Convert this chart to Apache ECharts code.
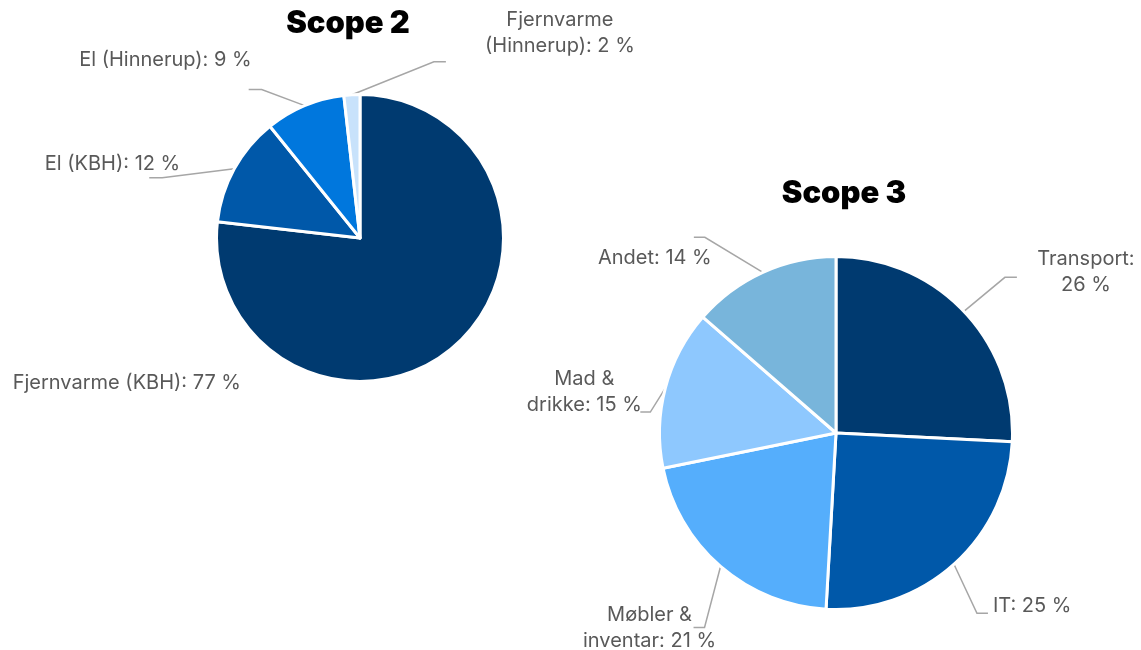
<!DOCTYPE html>
<html><head><meta charset="utf-8">
<script src="https://cdn.jsdelivr.net/npm/echarts@6/dist/echarts.min.js"></script>
<style>html,body{margin:0;padding:0;background:#fff}#c{width:1141px;height:650px}</style>
</head><body><div id="c"></div>
<script>
// ---- data ----
const titles = ['Scope 2', 'Scope 3'];
const scope2Categories = ['Fjernvarme (KBH)', 'El (KBH)', 'El (Hinnerup)', 'Fjernvarme (Hinnerup)'];
const scope2Values = [76.8, 12.4, 9.0, 1.8];
const scope3Categories = ['Transport', 'IT', 'Møbler & inventar', 'Mad & drikke', 'Andet'];
const scope3Values = [25.8, 25.1, 20.9, 14.6, 13.6];

// ---- styling / layout ----
const scope2Colors = ['#003a70', '#0058a9', '#0077dd', '#c8e2fb'];
const scope3Colors = ['#003a70', '#0058a9', '#55aefc', '#8ec8fe', '#78b5db'];
const pie2 = { center: [360, 238], radius: 143.5 };
const pie3 = { center: [836, 433], radius: 176.5 };
const FONT = 'Inter, "Noto Sans", sans-serif';
// label placement: elbow offset from edge point, horizontal tail, text offset from line end
const place2 = [
  { free: true, text: [-119, 145], align: 'right' },
  { elbow: [-72, 9], tail: -13, text: [31, -14], align: 'right' },
  { elbow: [-43, -16], tail: -13, text: [3, -30], align: 'right' },
  { elbow: [82, -33], tail: 12, text: [114, -29], align: 'center', wrapAt: 1 }
];
const place3 = [
  { elbow: [41, -34], tail: 12, text: [69, -5], align: 'center', wrapAt: 1 },
  { elbow: [23, 49], tail: 11, text: [5, -7], align: 'left' },
  { elbow: [-16, 61], tail: -11, text: [-44, 0], align: 'center', wrapAt: 2 },
  { elbow: [-15, 24], tail: -10, text: [-56, -20], align: 'center', wrapAt: 2 },
  { elbow: [-58, -35], tail: -11, text: [-39, 21], align: 'center' }
];

function wrapText(s, n) {
  if (!n) return s;
  let idx = -1;
  for (let k = 0; k < n; k++) idx = s.indexOf(' ', idx + 1);
  return s.slice(0, idx) + '\n' + s.slice(idx + 1);
}

function makeLayout(cfg, pie) {
  return function (p) {
    const c = cfg[p.dataIndex];
    if (c.free || !p.labelLinePoints) {
      return { x: pie.center[0] + c.text[0], y: pie.center[1] + c.text[1], align: c.align, verticalAlign: 'middle' };
    }
    const p0 = p.labelLinePoints[0];
    const elbow = [p0[0] + c.elbow[0], p0[1] + c.elbow[1]];
    const end = [elbow[0] + c.tail, elbow[1]];
    return {
      x: end[0] + c.text[0], y: end[1] + c.text[1],
      align: c.align, verticalAlign: 'middle',
      labelLinePoints: [p0, elbow, end]
    };
  };
}

function buildSeries(cats, vals, colors, pie, cfg) {
  const total = vals.reduce((a, b) => a + b, 0);
  return {
    type: 'pie',
    center: pie.center,
    radius: pie.radius,
    startAngle: 90,
    clockwise: true,
    avoidLabelOverlap: false,
    animation: false,
    emphasis: { disabled: true },
    itemStyle: { borderColor: '#ffffff', borderWidth: 3 },
    label: {
      show: true, position: 'outside',
      color: '#595959', fontFamily: FONT, fontSize: 20, lineHeight: 26,
      formatter: function (p) {
        const txt = p.name + ': ' + Math.round(p.value / total * 100) + ' %';
        return wrapText(txt, cfg[p.dataIndex].wrapAt);
      }
    },
    labelLine: { show: true, lineStyle: { color: '#a6a6a6', width: 1.5 } },
    labelLayout: makeLayout(cfg, pie),
    data: cats.map((n, i) => ({
      name: n, value: vals[i],
      itemStyle: { color: colors[i] },
      labelLine: { show: !cfg[i].free }
    }))
  };
}

const chart = echarts.init(document.getElementById('c'), null, { renderer: 'canvas' });
chart.setOption({
  backgroundColor: '#ffffff',
  animation: false,
  title: [
    { text: titles[0], left: 343, top: 3, textAlign: 'center',
      textStyle: { fontFamily: FONT, fontSize: 31, fontWeight: 900, color: '#000' } },
    { text: titles[1], left: 839, top: 173, textAlign: 'center',
      textStyle: { fontFamily: FONT, fontSize: 31, fontWeight: 900, color: '#000' } }
  ],
  series: [
    buildSeries(scope2Categories, scope2Values, scope2Colors, pie2, place2),
    buildSeries(scope3Categories, scope3Values, scope3Colors, pie3, place3)
  ]
});
</script>
</body></html>
